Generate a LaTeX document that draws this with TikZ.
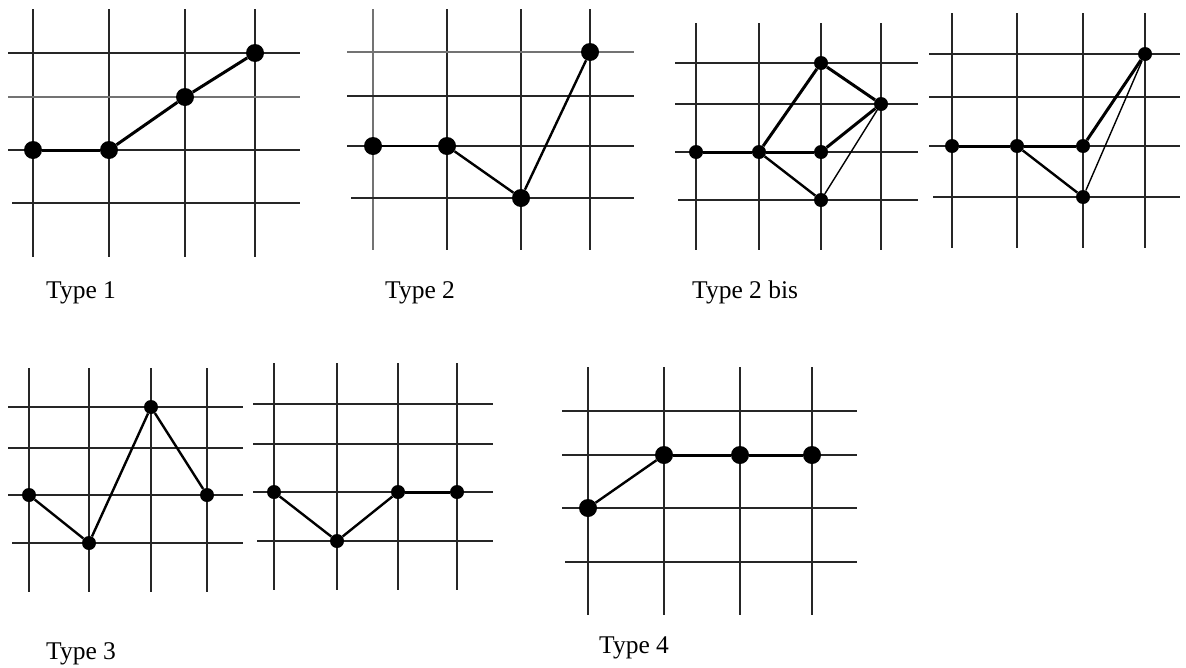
\documentclass[tikz,border=0pt]{standalone}
\usepackage{fontspec}
\setmainfont{Liberation Serif}
\begin{document}
\begin{tikzpicture}[x=1pt,y=-1pt,
  grid/.style={draw=black!85,line width=1.8pt},
  lgrid/.style={draw=black!55,line width=1.8pt},
  dotbig/.style={circle,fill=black,inner sep=0pt,minimum size=18pt},
  dotsmall/.style={circle,fill=black,inner sep=0pt,minimum size=14pt},
  edge/.style={draw=black,line width=3pt},
  medge/.style={draw=black,line width=2.4pt},
  tedge/.style={draw=black,line width=1.4pt},
  lbl/.style={anchor=base west,inner sep=0pt,font=\fontsize{25.5}{30}\selectfont}]
\useasboundingbox (0,0) rectangle (1186,667);
\fill[white] (0,0) rectangle (1186,667);
% ---------- Panel 1
\foreach \x in {33,109,185,255} \draw[grid] (\x,9) -- (\x,257);
\foreach \y in {53,150} \draw[grid] (8,\y) -- (300,\y);
\draw[lgrid] (8,97) -- (300,97);
\draw[grid] (12,203) -- (300,203);
\node[dotbig] (a1) at (33,150) {};
\node[dotbig] (a2) at (109,150) {};
\node[dotbig] (a3) at (185,97) {};
\node[dotbig] (a4) at (255,53) {};
\draw[edge] (a1) -- (a2);
\draw[edge] (a2) -- (a3);
\draw[edge] (a3) -- (a4);
\node[lbl] (l1) at (46,298) {Type 1};
% ---------- Panel 2
\draw[lgrid] (373,9) -- (373,250);
\foreach \x in {447,521,590} \draw[grid] (\x,9) -- (\x,250);
\draw[lgrid] (347,52) -- (634,52);
\foreach \y in {96,146} \draw[grid] (347,\y) -- (634,\y);
\draw[grid] (351,198) -- (634,198);
\node[dotbig] (b1) at (373,146) {};
\node[dotbig] (b2) at (447,146) {};
\node[dotbig] (b3) at (521,198) {};
\node[dotbig] (b4) at (590,52) {};
\draw[medge] (b1) -- (b2);
\draw[medge] (b2) -- (b3);
\draw[medge] (b3) -- (b4);
\node[lbl] (l2) at (385,298) {Type 2};
% ---------- Panel 3
\foreach \x in {696,759,821,881} \draw[grid] (\x,23) -- (\x,250);
\foreach \y in {63,104,152} \draw[grid] (675,\y) -- (918,\y);
\draw[grid] (678,200) -- (918,200);
\node[dotsmall] (c1) at (696,152) {};
\node[dotsmall] (c2) at (759,152) {};
\node[dotsmall] (c3) at (821,63) {};
\node[dotsmall] (c4) at (881,104) {};
\node[dotsmall] (c5) at (821,152) {};
\node[dotsmall] (c6) at (821,200) {};
\draw[edge] (c1) -- (c2);
\draw[edge] (c2) -- (c3);
\draw[edge] (c3) -- (c4);
\draw[edge] (c2) -- (c5);
\draw[edge] (c5) -- (c4);
\draw[medge] (c2) -- (c6);
\draw[tedge] (c6) -- (c4);
\node[lbl] (l3) at (692,298) {Type 2 bis};
% ---------- Panel 4
\foreach \x in {952,1017,1083,1145} \draw[grid] (\x,13) -- (\x,248);
\foreach \y in {54,97,146} \draw[grid] (929,\y) -- (1180,\y);
\draw[grid] (933,197) -- (1180,197);
\node[dotsmall] (d1) at (952,146) {};
\node[dotsmall] (d2) at (1017,146) {};
\node[dotsmall] (d3) at (1083,146) {};
\node[dotsmall] (d4) at (1145,54) {};
\node[dotsmall] (d5) at (1083,197) {};
\draw[edge] (d1) -- (d2);
\draw[edge] (d2) -- (d3);
\draw[edge] (d3) -- (d4);
\draw[medge] (d2) -- (d5);
\draw[tedge] (d5) -- (d4);
% ---------- Panel 5
\foreach \x in {29,89,151,207} \draw[grid] (\x,368) -- (\x,592);
\foreach \y in {407,448,495} \draw[grid] (8,\y) -- (243,\y);
\draw[grid] (12,543) -- (243,543);
\node[dotsmall] (e1) at (29,495) {};
\node[dotsmall] (e2) at (89,543) {};
\node[dotsmall] (e3) at (151,407) {};
\node[dotsmall] (e4) at (207,495) {};
\draw[medge] (e1) -- (e2);
\draw[medge] (e2) -- (e3);
\draw[medge] (e3) -- (e4);
\node[lbl] (l5) at (46,659) {Type 3};
% ---------- Panel 6
\foreach \x in {274,337,398,457} \draw[grid] (\x,363) -- (\x,590);
\foreach \y in {404,444,492} \draw[grid] (253,\y) -- (493,\y);
\draw[grid] (257,541) -- (493,541);
\node[dotsmall] (f1) at (274,492) {};
\node[dotsmall] (f2) at (337,541) {};
\node[dotsmall] (f3) at (398,492) {};
\node[dotsmall] (f4) at (457,492) {};
\draw[medge] (f1) -- (f2);
\draw[medge] (f2) -- (f3);
\draw[edge] (f3) -- (f4);
% ---------- Panel 7
\foreach \x in {588,664,740,812} \draw[grid] (\x,367) -- (\x,615);
\foreach \y in {411,455,508} \draw[grid] (562,\y) -- (857,\y);
\draw[grid] (565,562) -- (857,562);
\node[dotbig] (g1) at (588,508) {};
\node[dotbig] (g2) at (664,455) {};
\node[dotbig] (g3) at (740,455) {};
\node[dotbig] (g4) at (812,455) {};
\draw[medge] (g1) -- (g2);
\draw[edge] (g2) -- (g3);
\draw[edge] (g3) -- (g4);
\node[lbl] (l7) at (599,653) {Type 4};
\end{tikzpicture}
\end{document}
